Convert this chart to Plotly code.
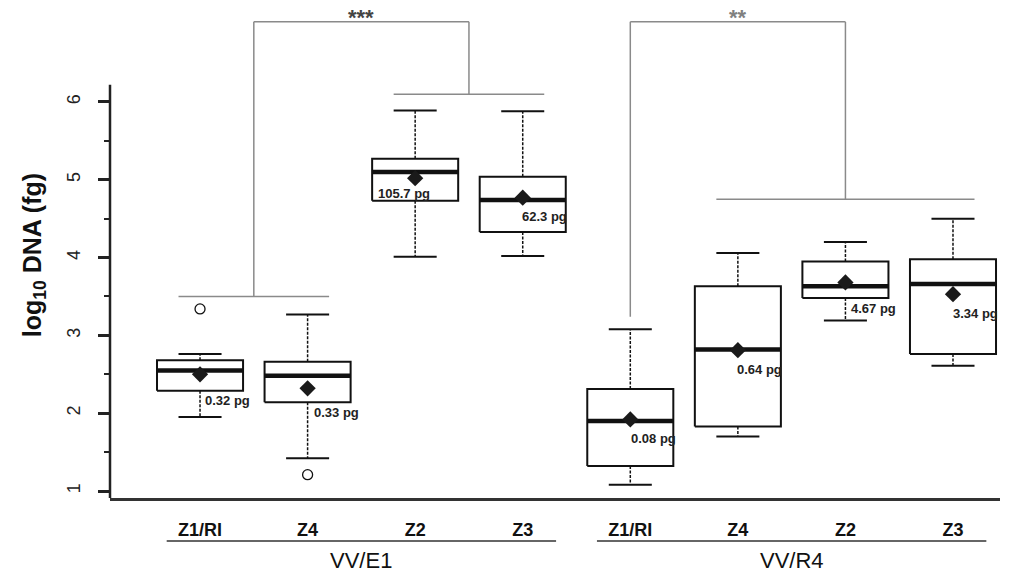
import plotly.graph_objects as go

# ---------------- data ----------------
categories = ["Z1/RI", "Z4", "Z2", "Z3", "Z1/RI", "Z4", "Z2", "Z3"]
groups = ["VV/E1", "VV/R4"]
q1 = [2.29, 2.14, 4.73, 4.33, 1.32, 1.83, 3.48, 2.76]
median = [2.55, 2.48, 5.10, 4.74, 1.90, 2.82, 3.63, 3.66]
q3 = [2.68, 2.66, 5.27, 5.04, 2.31, 3.63, 3.95, 3.98]
whisker_low = [1.95, 1.42, 4.01, 4.02, 1.08, 1.70, 3.19, 2.61]
whisker_high = [2.76, 3.27, 5.89, 5.88, 3.08, 4.06, 4.20, 4.50]
means = [2.50, 2.32, 5.02, 4.77, 1.92, 2.81, 3.68, 3.53]
outlier_box = [1, 2]
outlier_value = [3.34, 1.21]
mean_labels = ["0.32 pg", "0.33 pg", "105.7 pg", "62.3 pg",
               "0.08 pg", "0.64 pg", "4.67 pg", "3.34 pg"]
y_ticks = [1, 2, 3, 4, 5, 6]
significance = ["***", "**"]

# ---------------- layout helpers (styling / placement) ----------------
label_dx = [0.03, 0.04, -0.36, -0.03, -0.01, -0.03, 0.03, -0.02]
label_y = [2.16, 2.01, 4.83, 4.53, 1.68, 2.56, 3.34, 3.28]

FONT = "Liberation Sans, Arial, sans-serif"
NARROW = "Liberation Sans Narrow, Arial Narrow, Liberation Sans, sans-serif"
BLACK = "#111111"
GRAY = "#8a8a8a"
hw, cw = 0.4, 0.2
positions = list(range(1, len(categories) + 1))

fig = go.Figure()

for i, p in enumerate(positions):
    # box
    fig.add_trace(go.Scatter(
        x=[p - hw, p + hw, p + hw, p - hw, p - hw],
        y=[q1[i], q1[i], q3[i], q3[i], q1[i]],
        mode="lines", fill="toself", fillcolor="white",
        line=dict(color=BLACK, width=2), hoverinfo="skip", showlegend=False))
    # whiskers (dotted)
    fig.add_trace(go.Scatter(
        x=[p, p, None, p, p],
        y=[q3[i], whisker_high[i], None, q1[i], whisker_low[i]],
        mode="lines", line=dict(color=BLACK, width=1.5, dash="3px,1.5px"),
        hoverinfo="skip", showlegend=False))
    # caps
    fig.add_trace(go.Scatter(
        x=[p - cw, p + cw, None, p - cw, p + cw],
        y=[whisker_high[i], whisker_high[i], None, whisker_low[i], whisker_low[i]],
        mode="lines", line=dict(color=BLACK, width=2),
        hoverinfo="skip", showlegend=False))
    # median
    fig.add_trace(go.Scatter(
        x=[p - hw, p + hw], y=[median[i], median[i]],
        mode="lines", line=dict(color=BLACK, width=4.5),
        hoverinfo="skip", showlegend=False))

# means
fig.add_trace(go.Scatter(
    x=positions, y=means, mode="markers",
    marker=dict(symbol="diamond", size=12.5, color="#1a1a1a"),
    showlegend=False))
# outliers
fig.add_trace(go.Scatter(
    x=outlier_box, y=outlier_value, mode="markers",
    marker=dict(symbol="circle-open", size=10, color=BLACK, line=dict(width=1.3)),
    showlegend=False))

annotations = []
for i, p in enumerate(positions):
    annotations.append(dict(
        x=p + label_dx[i], y=label_y[i], xref="x", yref="y",
        text=mean_labels[i], showarrow=False, xanchor="left", yanchor="middle",
        font=dict(family=FONT, size=13, color="#222222", weight="bold")))

# significance brackets
shapes = []
def seg(x0, y0, x1, y1, color=GRAY, width=1.5):
    shapes.append(dict(type="line", xref="x", yref="y", x0=x0, y0=y0, x1=x1, y1=y1,
                       line=dict(color=color, width=width), layer="above"))

top = 7.03
# VV/E1: (Z1/RI,Z4) vs (Z2,Z3)
a = (positions[0] + positions[1]) / 2
b = (positions[2] + positions[3]) / 2
seg(a - 0.7, 3.5, a + 0.7, 3.5)
seg(b - 0.7, 6.1, b + 0.7, 6.1)
seg(a, 3.5, a, top)
seg(b, 6.1, b, top)
seg(a, top, b, top)
annotations.append(dict(x=(a + b) / 2, y=top, xref="x", yref="y", yanchor="middle",
                        text=significance[0], showarrow=False, yshift=4,
                        font=dict(family=FONT, size=22, color="#444444", weight="bold")))
# VV/R4: Z1/RI vs (Z4,Z2,Z3)
c = positions[4]
d = positions[6]
seg(c, 3.24, c, top)
seg(d - 1.2, 4.75, d + 1.2, 4.75)
seg(d, 4.75, d, top)
seg(c, top, d, top)
annotations.append(dict(x=(c + d) / 2, y=top, xref="x", yref="y", yanchor="middle",
                        text=significance[1], showarrow=False, yshift=4,
                        font=dict(family=FONT, size=22, color="#808080", weight="bold")))

# y axis line (stops just above 6)
shapes.append(dict(type="line", xref="paper", yref="y", x0=0, x1=0, y0=0.91, y1=6.22,
                   line=dict(color="#222222", width=2.5)))

# group underlines and titles
for g, centre in zip(groups, [2.5, 6.5]):
    shapes.append(dict(type="line", xref="x", yref="paper", x0=centre - 1.81, x1=centre + 1.81,
                       y0=-0.088, y1=-0.088, line=dict(color="#333333", width=1.5)))
    annotations.append(dict(x=centre, y=-0.129, xref="x", yref="paper", text=g,
                            showarrow=False, xanchor="center", yanchor="middle",
                            font=dict(family=NARROW, size=22, color="#111111")))

# y axis title
annotations.append(dict(x=0, y=4.03, xref="paper", yref="y", xshift=-76,
                        text="log<sub>10</sub> DNA (fg)", textangle=-90, showarrow=False,
                        xanchor="center", yanchor="middle",
                        font=dict(family=FONT, size=25, color="#111111", weight="bold")))

# the page body adds an 8px margin, so the figure is sized to fit the window
fig.update_layout(
    width=1010, height=565,
    margin=dict(l=102, r=18, t=2, b=75, autoexpand=False),
    plot_bgcolor="white", paper_bgcolor="white",
    shapes=shapes, annotations=annotations, showlegend=False,
    xaxis=dict(range=[0.163, 8.437], tickvals=positions, ticktext=categories,
               showgrid=False, zeroline=False, showline=True, linecolor="#333333",
               linewidth=2.5, ticks="", ticklabelstandoff=14, automargin=False,
               tickfont=dict(family=FONT, size=18, color="#111111", weight="bold")),
    yaxis=dict(range=[0.91, 7.182], tickvals=y_ticks, showgrid=False, zeroline=False,
               showline=False, ticks="outside", ticklen=11, tickwidth=2.5, tickcolor="#222222",
               tickangle=-90, ticklabelstandoff=11, automargin=False,
               minor=dict(tickvals=[1.5, 2.5, 3.5, 4.5, 5.5], ticks="outside", ticklen=5,
                          tickwidth=2, tickcolor="#222222"),
               tickfont=dict(family=FONT, size=18, color="#222222")),
)

fig.write_html("out.html")
